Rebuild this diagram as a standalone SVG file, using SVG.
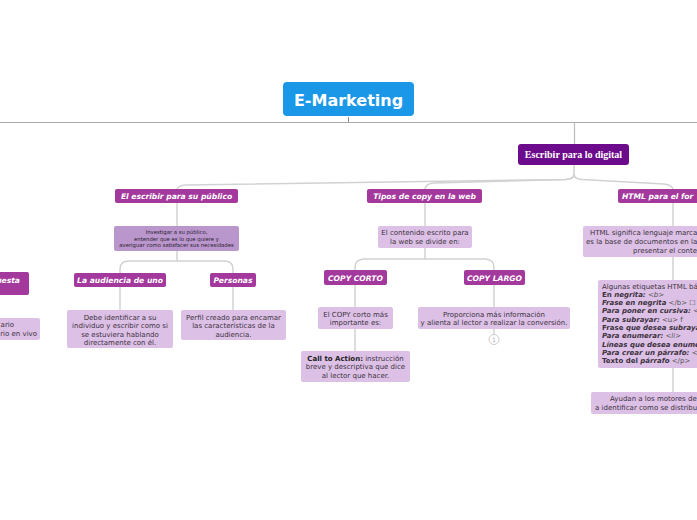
<svg xmlns="http://www.w3.org/2000/svg" width="697" height="520" viewBox="0 0 697 520">
<style>
.dk{fill:#6c0b8b}
.mg{fill:#a3389d}
.lt{fill:#dcc0e6}
.md{fill:#b996cb}
.c{fill:none;stroke:#d2d2d2;stroke-width:1.5}
.t2{font-family:"DejaVu Sans",Verdana,sans-serif;font-style:italic;font-weight:bold;font-size:7.6px;fill:#fff;text-anchor:middle}
.tb{font-family:"DejaVu Sans",Verdana,sans-serif;font-size:7px;fill:#3d3340;text-anchor:middle}
.ts{font-family:"DejaVu Sans",Verdana,sans-serif;font-size:5.3px;fill:#2a2030;text-anchor:middle}
.tl{font-family:"DejaVu Sans",Verdana,sans-serif;font-size:7px;fill:#3d3340}
.b{font-weight:bold}
.i{font-style:italic}
.bi{font-weight:bold;font-style:italic}
</style>
<rect width="697" height="520" fill="#fff"/>
<g id="connectors">
<line x1="0" y1="122.5" x2="697" y2="122.5" stroke="#aaa" stroke-width="1"/>
<line x1="348.5" y1="117" x2="348.5" y2="122" stroke="#888" stroke-width="1"/>
<line x1="574.5" y1="122" x2="574.5" y2="144" stroke="#bbb" stroke-width="1.2"/>
<path class="c" d="M574,165 V174 Q574,179 566,179.5 L186,185 Q177,185.5 177,190"/>
<path class="c" d="M574,174 Q574,179 566,179.5 L434,183 Q425,183.5 425,190"/>
<path class="c" d="M574,174 Q574,179 582,179.5 L664,184 Q673,185 673,190"/>
<path class="c" d="M177,203 V226"/>
<path class="c" d="M425,203 V226"/>
<path class="c" d="M673,203 V226"/>
<path class="c" d="M177,251 V261 H129 Q120,261 120,269 V273"/>
<path class="c" d="M177,261 H224 Q233,261 233,269 V273"/>
<path class="c" d="M425,248 V259 H364 Q355,259.5 355,267 V270"/>
<path class="c" d="M425,259 H485 Q494,259.5 494,267 V270"/>
<path class="c" d="M120,287 V310"/>
<path class="c" d="M233,287 V310"/>
<path class="c" d="M355,285 V307"/>
<path class="c" d="M355,329 V351"/>
<path class="c" d="M494,285 V307"/>
<path class="c" d="M494,329 V334"/>
<path class="c" d="M673,257 V280"/>
<path class="c" d="M673,368 V392"/>
</g>
<g id="n_emarketing">
<rect x="283" y="82" width="131" height="34" rx="4" fill="#1b97e8"/>
<text x="348.5" y="105.5" text-anchor="middle" font-family="'DejaVu Sans',Verdana,sans-serif" font-weight="bold" font-size="16" fill="#fff">E-Marketing</text>
</g>
<g id="n_escribir_digital">
<rect class="dk" x="518" y="144" width="111" height="21" rx="3"/>
<text x="573.5" y="158" text-anchor="middle" font-family="'Liberation Serif','Times New Roman',serif" font-weight="bold" font-size="10" fill="#fff">Escribir para lo digital</text>
</g>
<g id="n_publico">
<rect class="mg" x="115" y="189" width="123" height="14" rx="2"/>
<text class="t2" x="176.5" y="199">El escribir para su público</text>
</g>
<g id="n_tipos">
<rect class="mg" x="367" y="189" width="115" height="14" rx="2"/>
<text class="t2" x="424.5" y="199">Tipos de copy en la web</text>
</g>
<g id="n_html">
<rect class="mg" x="618" y="189" width="90" height="14" rx="2"/>
<text class="t2" x="622" y="199" text-anchor="start" style="text-anchor:start">HTML para el for</text>
</g>
<g id="n_left_respuesta">
<rect class="mg" x="-10" y="272" width="39" height="23" rx="2"/>
<text class="t2" x="20" y="282.5" style="text-anchor:end">uesta</text>
</g>
<g id="n_left_box">
<rect class="lt" x="-10" y="318" width="50" height="22" rx="2"/>
<text class="tl" x="14" y="327" text-anchor="end">ario</text>
<text class="tl" x="37" y="336" text-anchor="end">rio en vivo</text>
</g>
<g id="n_investigar">
<rect class="md" x="114" y="226" width="125" height="25" rx="2"/>
<text class="ts" x="176.5" y="234">Investigar a su público,</text>
<text class="ts" x="176.5" y="240.5">entender que es lo que quiere y</text>
<text class="ts" x="176.5" y="247">averiguar como satisfacer sus necesidades</text>
</g>
<g id="n_audiencia">
<rect class="mg" x="74" y="273" width="92" height="14" rx="2"/>
<text class="t2" x="120" y="283">La audiencia de uno</text>
</g>
<g id="n_personas">
<rect class="mg" x="210" y="273" width="46" height="14" rx="2"/>
<text class="t2" x="233" y="283">Personas</text>
</g>
<g id="n_debe">
<rect class="lt" x="67" y="310" width="106" height="38" rx="2"/>
<text class="tb" x="120" y="319.5">Debe identificar a su</text>
<text class="tb" x="120" y="328">individuo y escribir  como si</text>
<text class="tb" x="120" y="336.5">se estuviera hablando</text>
<text class="tb" x="120" y="345">directamente con él.</text>
</g>
<g id="n_perfil">
<rect class="lt" x="181" y="310" width="105" height="30" rx="2"/>
<text class="tb" x="233.5" y="319.5">Perfil creado para  encamar</text>
<text class="tb" x="233.5" y="328">las características de la</text>
<text class="tb" x="233.5" y="336.5">audiencia.</text>
</g>
<g id="n_contenido">
<rect class="lt" x="378" y="226" width="94" height="22" rx="2"/>
<text class="tb" x="425" y="235">El contenido escrito para</text>
<text class="tb" x="425" y="243.5">la web se divide en:</text>
</g>
<g id="n_copy_corto">
<rect class="mg" x="324" y="270" width="63" height="15" rx="2"/>
<text class="t2" x="355.5" y="280.5">COPY CORTO</text>
</g>
<g id="n_copy_largo">
<rect class="mg" x="464" y="270" width="61" height="15" rx="2"/>
<text class="t2" x="494.5" y="280.5">COPY LARGO</text>
</g>
<g id="n_copy_corto_desc">
<rect class="lt" x="318" y="307" width="75" height="22" rx="2"/>
<text class="tb" x="355.5" y="316.5">El COPY corto más</text>
<text class="tb" x="355.5" y="325">importante es:</text>
</g>
<g id="n_cta">
<rect class="lt" x="301" y="351" width="109" height="31" rx="2"/>
<text class="tb" x="355.5" y="360.5"><tspan class="b" fill="#222">Call to Action:</tspan> instrucción</text>
<text class="tb" x="355.5" y="369">breve y descriptiva que dice</text>
<text class="tb" x="355.5" y="377.5">al lector que hacer.</text>
</g>
<g id="n_proporciona">
<rect class="lt" x="418" y="307" width="152" height="22" rx="2"/>
<text class="tb" x="494" y="316.5">Proporciona más información</text>
<text class="tb" x="494" y="325">y alienta al lector a realizar la conversión.</text>
</g>
<g id="n_badge">
<circle cx="494" cy="339.5" r="5" fill="#fff" stroke="#ccc" stroke-width="1"/>
<text x="494" y="341.8" text-anchor="middle" font-family="'DejaVu Sans',sans-serif" font-size="6" fill="#aaa">1</text>
</g>
<g id="n_html_def">
<rect class="lt" x="583" y="226" width="120" height="31" rx="2"/>
<text class="tl" x="590" y="235">HTML significa lenguaje marca</text>
<text class="tl" x="586" y="244">es la base de documentos en la</text>
<text class="tl" x="633" y="253">presentar el conte</text>
</g>
<g id="n_etiquetas">
<rect class="lt" x="598" y="280" width="105" height="88" rx="2"/>
<text class="tl" x="602" y="288.5">Algunas etiquetas HTML bá</text>
<text class="tl" x="602" y="296.8" fill="#222"><tspan class="b">En </tspan><tspan class="bi">negrita:</tspan><tspan class="i" fill="#555"> &lt;b&gt;</tspan></text>
<text class="tl" x="602" y="305" fill="#222"><tspan class="bi">Frase en negrita</tspan><tspan fill="#555"> &lt;/b&gt; ☐</tspan></text>
<text class="tl" x="602" y="313.4" fill="#222"><tspan class="bi">Para poner en cursiva: </tspan><tspan fill="#555">&lt;</tspan></text>
<text class="tl" x="602" y="321.7" fill="#222"><tspan class="bi">Para subrayar:</tspan><tspan fill="#555"> &lt;u&gt; f</tspan></text>
<text class="tl" x="602" y="330" fill="#222"><tspan class="b">Frase </tspan><tspan class="bi">que desea subraya</tspan></text>
<text class="tl" x="602" y="338.3" fill="#222"><tspan class="bi">Para enumerar:</tspan><tspan class="i" fill="#555"> &lt;li&gt;</tspan></text>
<text class="tl" x="602" y="346.6" fill="#222"><tspan class="bi">Líneas que desea enume</tspan></text>
<text class="tl" x="602" y="354.9" fill="#222"><tspan class="bi">Para crear un párrafo: </tspan><tspan fill="#555">&lt;</tspan></text>
<text class="tl" x="602" y="363.2" fill="#222"><tspan class="b">Texto del </tspan><tspan class="bi">párrafo</tspan><tspan fill="#555"> &lt;/p&gt;</tspan></text>
</g>
<g id="n_ayudan">
<rect class="lt" x="591" y="392" width="112" height="22" rx="2"/>
<text class="tl" x="610" y="401">Ayudan a los motores de</text>
<text class="tl" x="595" y="410">a identificar como se distribu</text>
</g>
</svg>
